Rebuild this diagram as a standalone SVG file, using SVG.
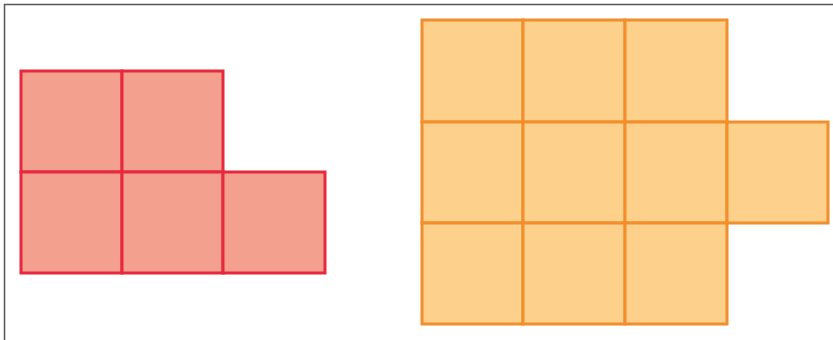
<svg xmlns="http://www.w3.org/2000/svg" width="833" height="340" viewBox="0 0 833 340">
<style>
.r{fill:#f4a08e;stroke:#e8283f;stroke-width:3}
.o{fill:#fdd18c;stroke:#f28e2b;stroke-width:3}
</style>
<rect x="0" y="0" width="833" height="340" fill="#fff"/>
<path d="M4.5,340 V4.5 H833" fill="none" stroke="#555" stroke-width="1.5"/>
<g id="red">
<rect class="r" x="21" y="71" width="101" height="101"/>
<rect class="r" x="122" y="71" width="101" height="101"/>
<rect class="r" x="21" y="172" width="101" height="101"/>
<rect class="r" x="122" y="172" width="101" height="101"/>
<rect class="r" x="223" y="172" width="102" height="101"/>
</g>
<g id="orange">
<rect class="o" x="422" y="20" width="101" height="102"/>
<rect class="o" x="523" y="20" width="102" height="102"/>
<rect class="o" x="625" y="20" width="102" height="102"/>
<rect class="o" x="422" y="122" width="101" height="101"/>
<rect class="o" x="523" y="122" width="102" height="101"/>
<rect class="o" x="625" y="122" width="102" height="101"/>
<rect class="o" x="727" y="122" width="101" height="101"/>
<rect class="o" x="422" y="223" width="101" height="101"/>
<rect class="o" x="523" y="223" width="102" height="101"/>
<rect class="o" x="625" y="223" width="102" height="101"/>
</g>
</svg>
